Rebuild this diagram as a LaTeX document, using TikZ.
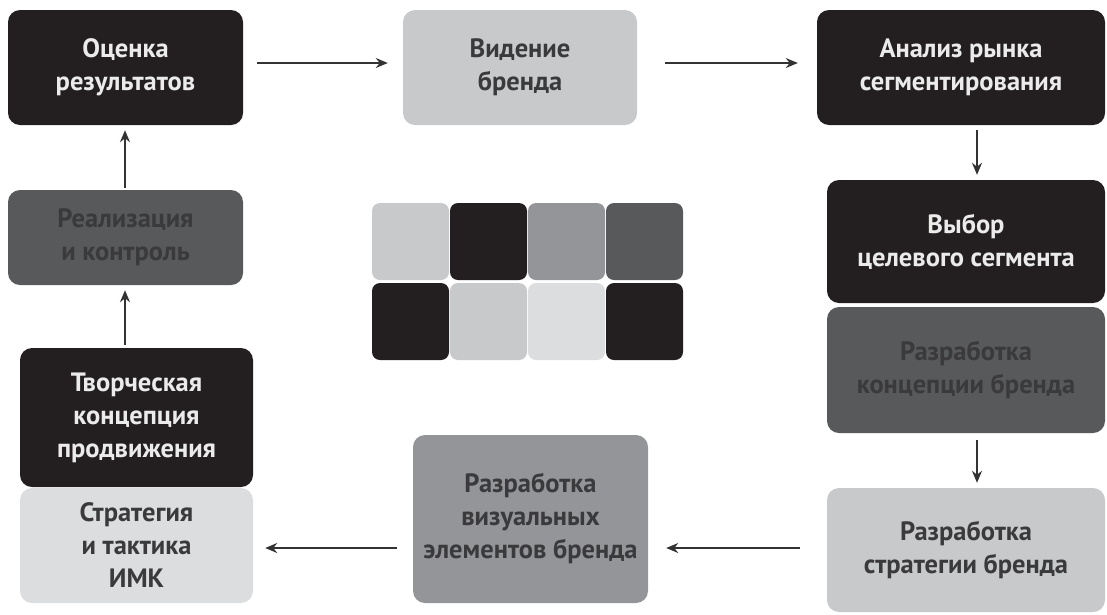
\documentclass[tikz,border=0pt]{standalone}
\usepackage{fontspec}
\setmainfont{PT Sans}
\usetikzlibrary{arrows.meta}

\definecolor{blk}{HTML}{231F20}
\definecolor{dgray}{HTML}{58595B}
\definecolor{mgray}{HTML}{939598}
\definecolor{lgray}{HTML}{C8C9CB}
\definecolor{pgray}{HTML}{DCDDDF}
\definecolor{txtgray}{HTML}{3A3A3C}
\definecolor{arrgray}{HTML}{333333}

\tikzset{
  box/.style={rounded corners=12pt, align=center, inner sep=0pt,
    font=\fontsize{26.5}{33}\selectfont\bfseries},
  blackbox/.style={box, fill=blk, text=white!92!black},
  darkbox/.style={box, fill=dgray, text=txtgray},
  midbox/.style={box, fill=mgray, text=txtgray},
  lightbox/.style={box, fill=lgray, text=txtgray},
  palebox/.style={box, fill=pgray, text=txtgray},
  arr/.style={draw=arrgray, line width=1.6pt, -{Stealth[length=12pt,width=10pt]}}
}

\begin{document}
\begin{tikzpicture}[x=1pt,y=-1pt]
  \useasboundingbox (0,0) rectangle (1107,614);

  % top row
  \node[blackbox, minimum width=235pt, minimum height=115pt] (ocen) at (125.5,67.5) {Оценка\\результатов};
  \node[lightbox, minimum width=234pt, minimum height=115pt] (vid) at (520,67.5) {Видение\\бренда};
  \node[blackbox, minimum width=288pt, minimum height=115pt] (anal) at (961,67.5) {Анализ рынка\\сегментирования};

  % right column
  \node[blackbox, minimum width=278pt, minimum height=123pt] (vyb) at (966,241.5) {Выбор\\целевого сегмента};
  \node[darkbox, minimum width=278pt, minimum height=126pt] (konc) at (966,370) {Разработка\\концепции бренда};
  \node[lightbox, minimum width=278pt, minimum height=124pt] (strb) at (966,550) {Разработка\\стратегии бренда};

  % bottom row
  \node[midbox, minimum width=235pt, minimum height=168pt] (viz) at (530.5,519) {Разработка\\визуальных\\элементов бренда};
  \node[palebox, minimum width=233pt, minimum height=115pt] (imk) at (136.5,545.5) {Стратегия\\и тактика\\ИМК};

  % left column
  \node[blackbox, minimum width=233pt, minimum height=139pt] (tvor) at (136.5,417.5) {Творческая\\концепция\\продвижения};
  \node[darkbox, minimum width=235pt, minimum height=95pt] (real) at (125.5,237.5) {Реализация\\и контроль};

  % tiles in the middle
  \foreach \col [count=\i from 0] in {lgray,blk,mgray,dgray}
    \fill[\col, rounded corners=8pt] (372+78*\i,203) rectangle ++(77,77);
  \foreach \col [count=\i from 0] in {blk,lgray,pgray,blk}
    \fill[\col, rounded corners=8pt] (372+78*\i,283) rectangle ++(77,77);

  % connectors
  \coordinate (ty) at (0,63);
  \coordinate (by) at (0,548);
  \coordinate (lx) at (125,0);
  \coordinate (rx) at (977,0);

  \draw[arr, shorten <=14pt, shorten >=15pt] (ocen.east |- ty) -- (vid.west |- ty);
  \draw[arr, shorten <=28pt, shorten >=19pt] (vid.east |- ty) -- (anal.west |- ty);
  \draw[arr, shorten <=5pt, shorten >=5pt] (anal.south -| rx) -- (vyb.north -| rx);
  \draw[arr, shorten <=7pt, shorten >=5pt] (konc.south -| rx) -- (strb.north -| rx);
  \draw[arr, shorten <=27pt, shorten >=18pt] (strb.west |- by) -- (viz.east |- by);
  \draw[arr, shorten <=16pt, shorten >=12pt] (viz.west |- by) -- (imk.east |- by);
  \draw[arr, shorten <=3pt, shorten >=5pt] (tvor.north -| lx) -- (real.south -| lx);
  \draw[arr, shorten <=2pt, shorten >=5pt] (real.north -| lx) -- (ocen.south -| lx);
\end{tikzpicture}
\end{document}
